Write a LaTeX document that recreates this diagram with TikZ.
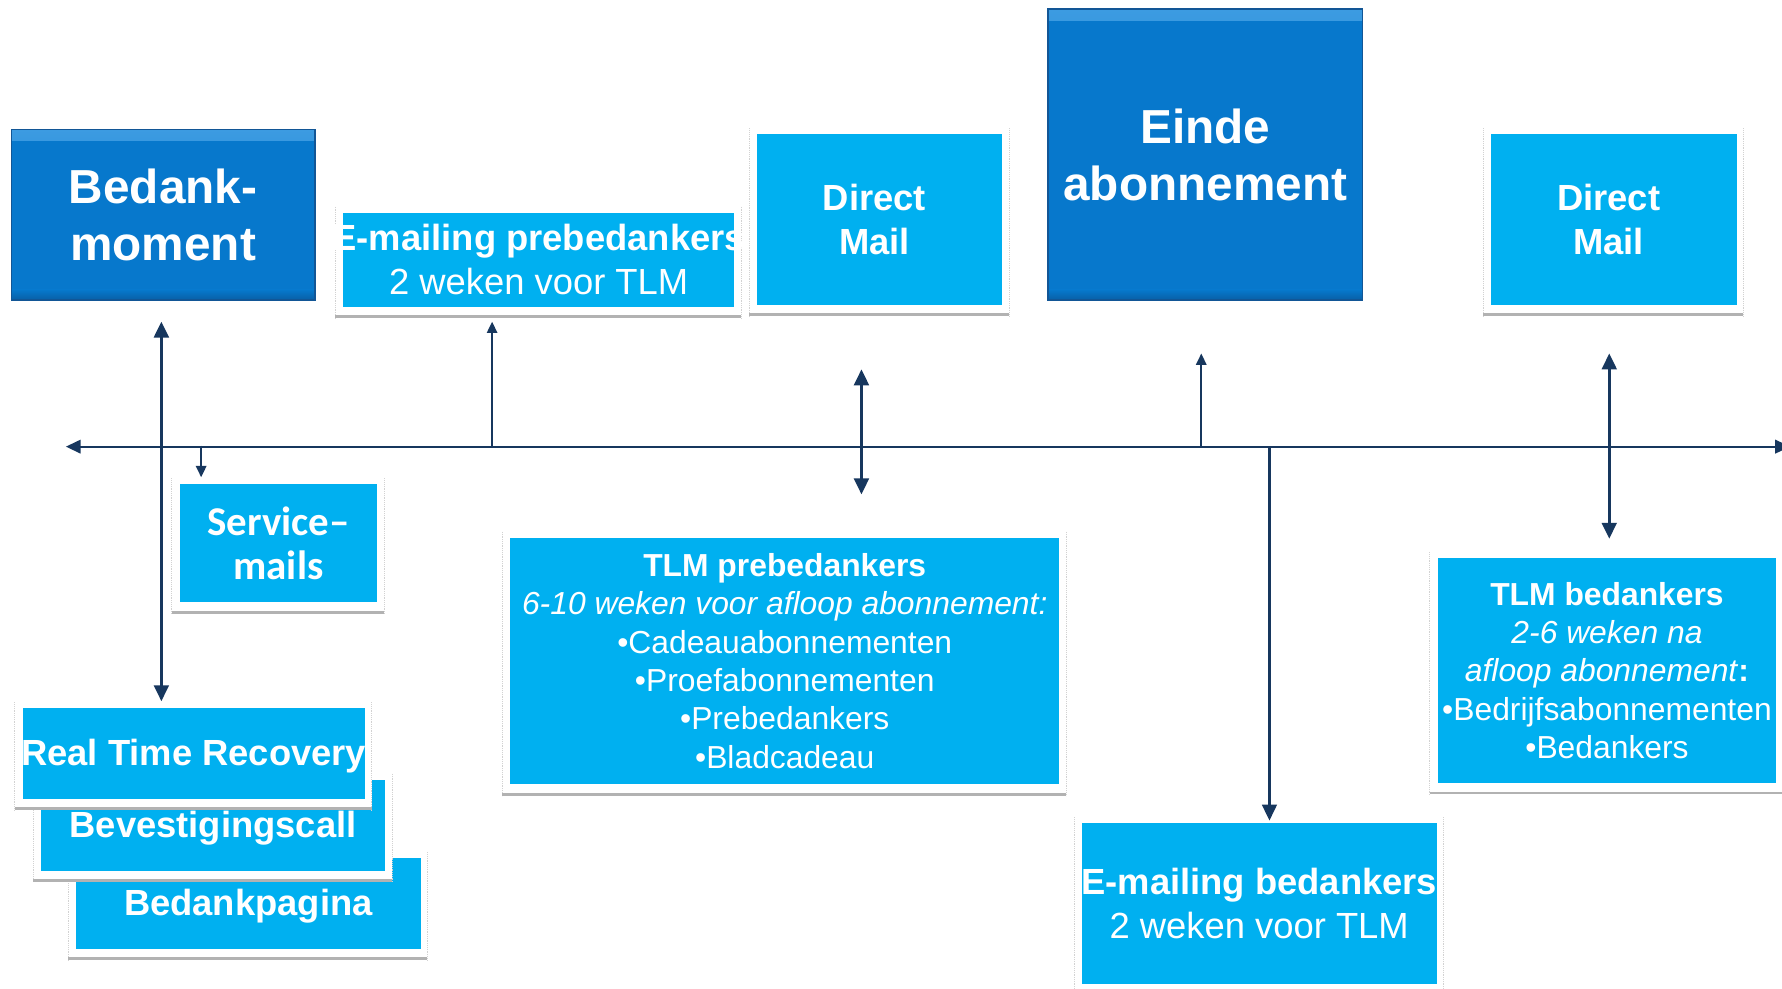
\documentclass[tikz,border=0pt]{standalone}
\usepackage{fontspec}
\setmainfont{Liberation Sans}
\newfontfamily\carlitofont{Carlito}
\usetikzlibrary{arrows.meta,calc}

\definecolor{darkfill}{RGB}{7,120,204}
\definecolor{darkedge}{RGB}{18,86,150}
\definecolor{bevelhi}{RGB}{60,155,225}
\definecolor{bevello}{RGB}{8,95,165}
\definecolor{litefill}{RGB}{0,176,240}
\definecolor{navy}{RGB}{23,55,94}

% a centred line of zero width, so long labels run past the box edge
\newcommand\oline[1]{\makebox[0pt]{#1}}

\tikzset{
  boxtext/.style={text=white, align=center, inner sep=0pt, outer sep=0pt, rectangle},
  darkpanel/.style={boxtext, fill=darkfill, draw=darkedge, line width=1.4pt,
    path picture={
      \shade[top color=bevelhi, bottom color=darkfill]
        (path picture bounding box.north west) rectangle ([yshift=-10pt]path picture bounding box.north east);
      \shade[top color=darkfill, bottom color=bevello]
        ([yshift=9pt]path picture bounding box.south west) rectangle (path picture bounding box.south east);
    }},
  litepanel/.style={boxtext, fill=litefill},
  frameside/.style={draw=gray!35, line width=0.6pt, densely dotted},
  shadowstrip/.style={fill=gray!60},
  axisline/.style={draw=navy, line width=1.6pt},
  conn/.style={draw=navy, line width=2.3pt},
  thinconn/.style={draw=navy, line width=1.9pt},
  big both/.style={arrows={Triangle[length=14pt,width=13pt]-Triangle[length=14pt,width=13pt]}},
  big end/.style={arrows={-Triangle[length=14pt,width=13pt]}},
  small end/.style={arrows={-Triangle[length=10pt,width=9pt]}},
  big font/.style={font=\fontsize{42}{50}\selectfont\bfseries},
  mid font/.style={font=\fontsize{32}{39}\selectfont},
  mid bold/.style={font=\fontsize{32}{39}\selectfont\bfseries},
  small font/.style={font=\fontsize{28}{33.8}\selectfont},
  one line/.style={text height=21pt, text depth=0pt},
}

% light-blue panel on a white card with a grey strip along its foot
% #1 name, #2 cx, #3 cy, #4 width, #5 height, #6 extra node options, #7 text
\newcommand\panel[7]{%
  \fill[white] ({#2-#4/2-7},{#3-#5/2-5}) rectangle ({#2+#4/2+6},{#3+#5/2+10});
  \draw[frameside] ({#2-#4/2-7},{#3-#5/2-5}) -- ({#2-#4/2-7},{#3+#5/2+10});
  \draw[frameside] ({#2+#4/2+6},{#3-#5/2-5}) -- ({#2+#4/2+6},{#3+#5/2+10});
  \fill[shadowstrip] ({#2-#4/2-7},{#3+#5/2+7.5}) rectangle ({#2+#4/2+6},{#3+#5/2+10});
  \node[litepanel, minimum width=#4pt, minimum height=#5pt, #6] (#1) at (#2,#3) {#7};
}

\begin{document}
\begin{tikzpicture}[x=1pt, y=-1pt]
\clip (0,0) rectangle (1568,870);
\fill[white] (0,0) rectangle (1568,870);

% milestones
\node[darkpanel, big font, minimum width=267pt, minimum height=150pt] (bm) at (143.5,189)
  {\oline{Bedank-}\\\oline{moment}};
\node[darkpanel, big font, minimum width=277pt, minimum height=256pt] (einde) at (1060.5,136)
  {\oline{Einde}\\\oline{abonnement}};

% channels above the time line
\panel{emp}{474}{228.5}{344}{83}{mid font}
  {\oline{\textbf{E-mailing prebedankers}}\\\oline{2 weken voor TLM}}
\panel{dmA}{774}{193}{216}{150}{mid bold}
  {\oline{Direct\kern9pt}\\\oline{Mail\kern9pt}}
\panel{dmB}{1420}{193}{216}{150}{mid bold}
  {\oline{Direct\kern9pt}\\\oline{Mail\kern9pt}}

% channels below the time line
\panel{srv}{245}{478}{174}{104}{font=\fontsize{36}{38}\selectfont\carlitofont\bfseries}
  {\oline{Service–}\\\oline{mails}}
\panel{bpg}{218.5}{795}{303}{80}{mid bold, one line}{\oline{Bedankpagina}}
\panel{bev}{187.5}{726}{303}{80}{mid bold, one line}{\oline{Bevestigingscall}}
\panel{rtr}{170.5}{663}{301}{80}{mid bold, one line}{\oline{Real Time Recovery}}
\panel{tpb}{690.5}{581.5}{483}{217}{small font}
  {\oline{\textbf{TLM prebedankers}}\\
   \oline{\textit{6-10 weken voor afloop abonnement:}}\\
   \oline{•Cadeauabonnementen}\\
   \oline{•Proefabonnementen}\\
   \oline{•Prebedankers}\\
   \oline{•Bladcadeau}}
\panel{tb}{1414}{590}{298}{198}{small font}
  {\oline{\textbf{TLM bedankers}}\\
   \oline{\textit{2-6 weken na}}\\
   \oline{\textit{afloop abonnement}\textbf{:}}\\
   \oline{•Bedrijfsabonnementen}\\
   \oline{•Bedankers}}
\panel{eb}{1108}{795}{312}{142}{mid font}
  {\oline{\textbf{E-mailing bedankers}}\\\oline{2 weken voor TLM}}

% time line
\coordinate (axL) at (58,393);
\coordinate (axR) at (1575,393);
\draw[axisline, arrows={Triangle[length=13pt,width=12pt]-Triangle[length=13pt,width=12pt]}] (axL) -- (axR);

% connectors
\coordinate (bmTip)    at (142,283);
\coordinate (rtrTip)   at (142,617);
\coordinate (srvRoot)  at (177,392);
\coordinate (srvTip)   at (177,420);
\coordinate (empRoot)  at (433,393);
\coordinate (empTip)   at (433,283);
\coordinate (dmATip)   at (758,325);
\coordinate (tpbTip)   at (758,435);
\coordinate (eindeRoot) at (1057,393);
\coordinate (eindeTip) at (1057,311);
\coordinate (ebRoot)   at (1117,393);
\coordinate (ebTip)    at (1117,722);
\coordinate (dmBTip)   at (1416,311);
\coordinate (tbTip)    at (1416,474);

\draw[conn, big both] (bmTip) -- (rtrTip);
\draw[thinconn, small end] (srvRoot) -- (srvTip);
\draw[thinconn, small end] (empRoot) -- (empTip);
\draw[conn, big both] (dmATip) -- (tpbTip);
\draw[thinconn, small end] (eindeRoot) -- (eindeTip);
\draw[thinconn, big end] (ebRoot) -- (ebTip);
\draw[conn, big both] (dmBTip) -- (tbTip);
\end{tikzpicture}
\end{document}
